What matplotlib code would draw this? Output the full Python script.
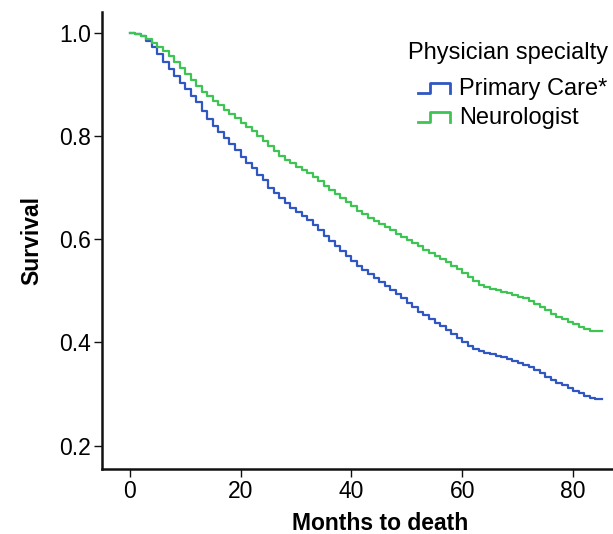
import numpy as np
import matplotlib
matplotlib.use("Agg")
import matplotlib.pyplot as plt
from matplotlib.legend_handler import HandlerBase
from matplotlib.lines import Line2D
from matplotlib.ticker import FormatStrFormatter

plt.rcParams['font.family'] = ['Liberation Sans', 'DejaVu Sans']

# Kaplan-Meier style survival
months = list(range(0, 85)) + [85.2]

surv_primary = [
    1.000, 0.998, 0.993, 0.984, 0.972, 0.958, 0.944, 0.930, 0.916, 0.902,
    0.890, 0.878, 0.865, 0.848, 0.833, 0.820, 0.808, 0.796, 0.784, 0.772,
    0.760, 0.748, 0.737, 0.725, 0.714, 0.700, 0.689, 0.679, 0.670, 0.661,
    0.653, 0.645, 0.637, 0.627, 0.617, 0.607, 0.597, 0.587, 0.577, 0.567,
    0.557, 0.548, 0.540, 0.532, 0.525, 0.518, 0.510, 0.502, 0.494, 0.486,
    0.477, 0.468, 0.460, 0.453, 0.446, 0.438, 0.431, 0.424, 0.416, 0.408,
    0.400, 0.393, 0.387, 0.383, 0.380, 0.377, 0.374, 0.371, 0.368, 0.365,
    0.361, 0.357, 0.352, 0.346, 0.340, 0.334, 0.328, 0.322, 0.317, 0.312,
    0.307, 0.302, 0.297, 0.292, 0.291, 0.291,
]

surv_neuro = [
    1.000, 0.998, 0.994, 0.988, 0.980, 0.972, 0.964, 0.954, 0.943, 0.931,
    0.920, 0.908, 0.896, 0.886, 0.877, 0.868, 0.859, 0.850, 0.842, 0.834,
    0.825, 0.817, 0.809, 0.800, 0.791, 0.780, 0.770, 0.761, 0.754, 0.747,
    0.740, 0.734, 0.728, 0.720, 0.712, 0.704, 0.696, 0.688, 0.680, 0.672,
    0.664, 0.655, 0.648, 0.642, 0.636, 0.630, 0.623, 0.617, 0.611, 0.605,
    0.599, 0.592, 0.586, 0.580, 0.574, 0.568, 0.561, 0.555, 0.549, 0.542,
    0.535, 0.527, 0.519, 0.512, 0.507, 0.504, 0.501, 0.498, 0.495, 0.492,
    0.489, 0.486, 0.480, 0.474, 0.468, 0.462, 0.456, 0.450, 0.445, 0.440,
    0.435, 0.430, 0.426, 0.423, 0.422, 0.422,
]

series_names = ["Primary Care*", "Neurologist"]
series_colors = ["#3056c2", "#3ec452"]

x_ticks = [0, 20, 40, 60, 80]
y_ticks = [0.2, 0.4, 0.6, 0.8, 1.0]


class HandlerStep(HandlerBase):
    # little step glyph for the legend, like the SPSS output
    def create_artists(self, legend, orig_handle, xdescent, ydescent,
                       width, height, fontsize, trans):
        lo = -ydescent + 0.1 * height
        hi = -ydescent + 0.75 * height
        xs = np.array([0, 0.38, 0.38, 1.0, 1.0]) * width - xdescent
        ys = [lo, lo, hi, hi, lo + 0.05 * height]
        ln = Line2D(xs, ys, color=orig_handle.get_color(),
                    lw=orig_handle.get_linewidth() + 0.4, transform=trans)
        return [ln]


fig = plt.figure(figsize=(6.13, 5.34), dpi=100)
ax = fig.add_axes([0.1664, 0.1217, 0.8336, 0.8558])

handles = []
for vals, name, col in zip([surv_primary, surv_neuro], series_names, series_colors):
    h, = ax.step(months, vals, where='post', color=col, lw=1.6, label=name)
    handles.append(h)

ax.set_xlim(-5, 87.2)
ax.set_ylim(0.155, 1.04)
ax.set_xticks(x_ticks)
ax.set_yticks(y_ticks)
ax.yaxis.set_major_formatter(FormatStrFormatter('%.1f'))

for s in ['top', 'right']:
    ax.spines[s].set_visible(False)
for s in ['left', 'bottom']:
    ax.spines[s].set_linewidth(1.8)
    ax.spines[s].set_color('#111111')

ax.tick_params(axis='both', direction='out', length=6, width=1.0,
               labelsize=16.5, pad=2, color='#111111')

ax.set_xlabel("Months to death", fontsize=16.5, fontweight='bold')
ax.xaxis.set_label_coords((380 - 102) / 511, -0.095)
ax.set_ylabel("Survival", fontsize=16.5, fontweight='bold', labelpad=11)

# legend title drawn on its own so the entries can sit indented under it
fig.text(408 / 613, 1 - 53 / 534, "Physician specialty", fontsize=17,
         ha='left', va='center')
leg = ax.legend(handles, series_names, handler_map={Line2D: HandlerStep()},
                fontsize=17, frameon=False, loc='upper left',
                bbox_to_anchor=(418 / 613, 1 - 78 / 534),
                bbox_transform=fig.transFigure, borderpad=0, borderaxespad=0,
                handlelength=1.36, handletextpad=0.38, labelspacing=0.3)

fig.savefig("out.png", dpi=100)
